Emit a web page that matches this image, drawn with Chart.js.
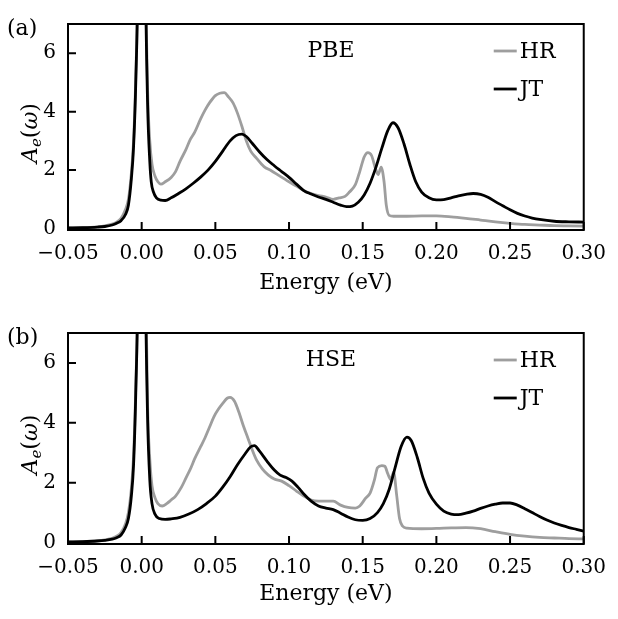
<!DOCTYPE html>
<html>
<head>
<meta charset="utf-8">
<script src="https://cdn.jsdelivr.net/npm/chart.js@4.4.0/dist/chart.umd.min.js"></script>
<style>
  html, body { margin: 0; padding: 0; background: #fff; }
  canvas { display: block; }
</style>
</head>
<body>
<canvas id="chartA" width="618" height="309"></canvas>
<canvas id="chartB" width="618" height="310"></canvas>
<script>
// tick labels
const xTicks = [-0.05, 0.00, 0.05, 0.10, 0.15, 0.20, 0.25, 0.30];
const yTicks = [0, 2, 4, 6];

// (a) PBE, HR
const pbeHrE = [-0.05, -0.04, -0.03, -0.025, -0.02, -0.017, -0.014, -0.011, -0.009, -0.007, -0.0055, -0.004, -0.0025, -0.001, 0,
  0.001, 0.0025, 0.004, 0.0055, 0.007, 0.009, 0.011, 0.013, 0.016, 0.02, 0.023, 0.026, 0.03, 0.033, 0.036, 0.04, 0.043, 0.046,
  0.05, 0.053, 0.056, 0.059, 0.062, 0.065, 0.068, 0.071, 0.074, 0.078, 0.083, 0.088, 0.093, 0.1, 0.105, 0.11, 0.115, 0.12,
  0.125, 0.13, 0.134, 0.138, 0.141, 0.145, 0.148, 0.151, 0.1535, 0.156, 0.159, 0.1605, 0.1625, 0.1645, 0.166, 0.168, 0.171,
  0.18, 0.19, 0.2, 0.21, 0.22, 0.23, 0.24, 0.25, 0.26, 0.27, 0.28, 0.29, 0.3];
const pbeHrA = [0.02, 0.03, 0.06, 0.09, 0.15, 0.22, 0.35, 0.65, 1.0, 1.9, 3.0, 5.2, 9, 20, 30,
  20, 9.5, 4.8, 3.0, 2.2, 1.8, 1.6, 1.52, 1.6, 1.75, 1.95, 2.3, 2.7, 3.05, 3.3, 3.75, 4.05, 4.3,
  4.55, 4.63, 4.65, 4.5, 4.3, 3.95, 3.5, 3.0, 2.65, 2.4, 2.12, 1.98, 1.82, 1.6, 1.45, 1.3, 1.2, 1.13,
  1.08, 1.0, 1.05, 1.1, 1.25, 1.5, 1.95, 2.45, 2.6, 2.5, 2.0, 1.85, 2.1, 1.6, 0.8, 0.45, 0.42,
  0.42, 0.43, 0.43, 0.4, 0.35, 0.29, 0.23, 0.18, 0.14, 0.12, 0.1, 0.09, 0.08];

// (a) PBE, JT
const pbeJtE = [-0.05, -0.04, -0.03, -0.025, -0.02, -0.017, -0.014, -0.011, -0.009, -0.007, -0.0055, -0.004, -0.0025, -0.001, 0,
  0.001, 0.0025, 0.004, 0.0055, 0.0065, 0.008, 0.01, 0.013, 0.016, 0.02, 0.025, 0.03, 0.035, 0.04, 0.045, 0.05, 0.055,
  0.06, 0.064, 0.068, 0.071, 0.075, 0.08, 0.085, 0.09, 0.095, 0.1, 0.105, 0.11, 0.115, 0.12, 0.125, 0.13, 0.135, 0.139,
  0.143, 0.147, 0.151, 0.155, 0.159, 0.163, 0.167, 0.1705, 0.174, 0.178, 0.182, 0.186, 0.19, 0.195, 0.2, 0.205, 0.21,
  0.215, 0.22, 0.225, 0.23, 0.235, 0.24, 0.245, 0.25, 0.255, 0.26, 0.265, 0.27, 0.28, 0.29, 0.3];
const pbeJtA = [0.02, 0.03, 0.05, 0.07, 0.12, 0.18, 0.27, 0.48, 0.8, 1.7, 2.8, 5.0, 9, 20, 30,
  20, 9, 4.3, 2.3, 1.6, 1.25, 1.05, 0.97, 0.96, 1.05, 1.2, 1.36, 1.55, 1.76, 2.0, 2.3, 2.65,
  3.0, 3.18, 3.23, 3.15, 2.92, 2.62, 2.36, 2.15, 1.95, 1.75, 1.52, 1.3, 1.18, 1.08, 1.0, 0.9, 0.8, 0.75,
  0.77, 0.9, 1.15, 1.55, 2.1, 2.75, 3.35, 3.62, 3.45, 2.9, 2.2, 1.6, 1.25, 1.05, 0.98, 0.99, 1.05,
  1.12, 1.17, 1.2, 1.17, 1.07, 0.92, 0.78, 0.64, 0.52, 0.43, 0.36, 0.31, 0.25, 0.23, 0.22];

// (b) HSE, HR
const hseHrE = [-0.05, -0.04, -0.03, -0.025, -0.02, -0.017, -0.014, -0.011, -0.009, -0.007, -0.0055, -0.004, -0.0025, -0.001, 0,
  0.001, 0.0025, 0.004, 0.0055, 0.007, 0.009, 0.011, 0.014, 0.017, 0.02, 0.023, 0.027, 0.03, 0.033, 0.036, 0.04, 0.043,
  0.046, 0.049, 0.052, 0.055, 0.058, 0.06, 0.063, 0.066, 0.069, 0.072, 0.075, 0.078, 0.082, 0.086, 0.09, 0.095, 0.1,
  0.105, 0.11, 0.115, 0.12, 0.125, 0.13, 0.135, 0.14, 0.145, 0.148, 0.152, 0.155, 0.158, 0.16, 0.163, 0.165, 0.167,
  0.169, 0.171, 0.173, 0.175, 0.177, 0.18, 0.19, 0.2, 0.21, 0.22, 0.23, 0.24, 0.25, 0.26, 0.27, 0.28, 0.29, 0.3];
const hseHrA = [0.02, 0.03, 0.06, 0.09, 0.14, 0.21, 0.33, 0.62, 1.0, 1.8, 2.9, 5.2, 9, 20, 30,
  20, 9.5, 4.6, 2.8, 1.9, 1.5, 1.3, 1.22, 1.3, 1.42, 1.55, 1.85, 2.15, 2.45, 2.8, 3.2, 3.5,
  3.85, 4.2, 4.45, 4.65, 4.82, 4.85, 4.72, 4.35, 3.9, 3.5, 3.1, 2.75, 2.45, 2.25, 2.12, 2.05, 1.9,
  1.72, 1.55, 1.42, 1.38, 1.38, 1.38, 1.25, 1.17, 1.15, 1.22, 1.48, 1.65, 2.1, 2.5, 2.57, 2.55, 2.3,
  2.1, 2.35, 1.6, 0.8, 0.55, 0.48, 0.46, 0.47, 0.49, 0.5, 0.46, 0.36, 0.27, 0.21, 0.17, 0.15, 0.13, 0.12];

// (b) HSE, JT
const hseJtE = [-0.05, -0.04, -0.03, -0.025, -0.02, -0.017, -0.014, -0.011, -0.009, -0.007, -0.0055, -0.004, -0.0025, -0.001, 0,
  0.001, 0.0025, 0.004, 0.0055, 0.007, 0.009, 0.012, 0.016, 0.02, 0.026, 0.032, 0.038, 0.044, 0.05, 0.055, 0.06, 0.065,
  0.07, 0.074, 0.0765, 0.08, 0.085, 0.09, 0.094, 0.098, 0.102, 0.106, 0.11, 0.115, 0.12, 0.125, 0.13, 0.135, 0.14, 0.145,
  0.15, 0.155, 0.16, 0.164, 0.168, 0.172, 0.176, 0.18, 0.183, 0.187, 0.191, 0.195, 0.2, 0.205, 0.21, 0.215, 0.22, 0.225,
  0.23, 0.235, 0.24, 0.245, 0.25, 0.255, 0.26, 0.265, 0.27, 0.275, 0.28, 0.285, 0.29, 0.295, 0.3];
const hseJtA = [0.02, 0.03, 0.05, 0.07, 0.11, 0.16, 0.25, 0.5, 0.8, 1.55, 2.6, 5.0, 9, 20, 30,
  20, 9, 4.2, 2.1, 1.3, 0.95, 0.8, 0.77, 0.79, 0.84, 0.95, 1.1, 1.3, 1.55, 1.85, 2.2, 2.6,
  2.95, 3.2, 3.24, 3.05, 2.72, 2.42, 2.25, 2.17, 2.05, 1.85, 1.62, 1.38, 1.22, 1.15, 1.1, 0.98, 0.85, 0.76,
  0.74, 0.8, 1.0, 1.3, 1.78, 2.5, 3.2, 3.52, 3.4, 2.85, 2.15, 1.65, 1.28, 1.05, 0.95, 0.93, 0.98, 1.05,
  1.14, 1.22, 1.28, 1.32, 1.32, 1.25, 1.13, 1.0, 0.87, 0.75, 0.65, 0.57, 0.5, 0.44, 0.38];

const FONT = 'DejaVu Serif';
const TICK_SIZE = 20;
const TEXT_SIZE = 22;

function pts(es, vs) {
  return es.map((e, i) => ({ x: e, y: vs[i] }));
}

function fmtTick(v) {
  const s = Math.abs(v).toFixed(2);
  return v < -1e-9 ? '\u2212' + s : s;
}

// frame, inward ticks, panel tag, method label, legend and y title
const framePlugin = {
  id: 'frame',
  afterDatasetsDraw(chart, args, opts) {
    const ctx = chart.ctx;
    const a = chart.chartArea;
    const xs = chart.scales.x, ys = chart.scales.y;
    ctx.save();
    ctx.strokeStyle = '#000';
    ctx.lineWidth = 2;
    ctx.strokeRect(a.left, a.top, a.right - a.left, a.bottom - a.top);
    ctx.beginPath();
    xTicks.forEach(v => {
      const p = xs.getPixelForValue(v);
      ctx.moveTo(p, a.bottom); ctx.lineTo(p, a.bottom - 8);
    });
    yTicks.forEach(v => {
      const p = ys.getPixelForValue(v);
      ctx.moveTo(a.left, p); ctx.lineTo(a.left + 8, p);
    });
    ctx.stroke();

    ctx.fillStyle = '#000';
    ctx.font = TEXT_SIZE + 'px ' + FONT;
    ctx.textBaseline = 'middle';
    ctx.textAlign = 'left';
    ctx.fillText(opts.tag, 7, a.top + 5);
    ctx.textAlign = 'center';
    ctx.fillText(opts.method, 331, a.top + 27);

    // legend
    const ds = chart.data.datasets;
    ctx.textAlign = 'left';
    ds.forEach((d, i) => {
      const yy = a.top + 27 + i * 38;
      ctx.strokeStyle = d.borderColor;
      ctx.lineWidth = 2.8;
      ctx.beginPath();
      ctx.moveTo(a.right - 90, yy); ctx.lineTo(a.right - 67, yy);
      ctx.stroke();
      ctx.fillText(d.label, a.right - 64, yy + 1);
    });

    // y title A_e(w)
    ctx.translate(29, (a.top + a.bottom) / 2 + 6);
    ctx.rotate(-Math.PI / 2);
    const parts = [
      { t: 'A', f: 'italic ' + TEXT_SIZE + 'px ' + FONT, dy: 0 },
      { t: 'e', f: 'italic 15px ' + FONT, dy: 4 },
      { t: '(', f: TEXT_SIZE + 'px ' + FONT, dy: 0 },
      { t: '\u03c9', f: 'italic ' + TEXT_SIZE + 'px ' + FONT, dy: 0 },
      { t: ')', f: TEXT_SIZE + 'px ' + FONT, dy: 0 }
    ];
    let w = 0;
    parts.forEach(p => { ctx.font = p.f; p.w = ctx.measureText(p.t).width; w += p.w; });
    let cx = -w / 2;
    ctx.textBaseline = 'alphabetic';
    ctx.textAlign = 'left';
    parts.forEach(p => {
      ctx.font = p.f;
      ctx.fillText(p.t, cx, 8 + p.dy);
      cx += p.w;
    });
    ctx.restore();
  }
};

function buildChart(canvasId, tag, method, hrE, hrA, jtE, jtA, topPad, axisHeight, titlePad) {
  const ctx = document.getElementById(canvasId);
  return new Chart(ctx, {
    type: 'line',
    data: {
      datasets: [{
        label: 'HR',
        data: pts(hrE, hrA),
        borderColor: '#9e9e9e',
        borderWidth: 2.8,
        pointRadius: 0,
        cubicInterpolationMode: 'monotone',
        order: 1
      }, {
        label: 'JT',
        data: pts(jtE, jtA),
        borderColor: '#000000',
        borderWidth: 2.8,
        pointRadius: 0,
        cubicInterpolationMode: 'monotone',
        order: 0
      }]
    },
    options: {
      responsive: false,
      animation: false,
      devicePixelRatio: 1,
      layout: { padding: { top: topPad, right: 25, left: 0, bottom: 0 } },
      plugins: {
        legend: { display: false },
        tooltip: { enabled: false },
        frame: { tag: tag, method: method }
      },
      scales: {
        x: {
          type: 'linear',
          min: -0.05,
          max: 0.30,
          grid: { display: false, drawTicks: false },
          border: { display: false },
          afterBuildTicks: (s) => { s.ticks = xTicks.map(v => ({ value: v })); },
          afterFit: (s) => { s.height = axisHeight; },
          ticks: {
            autoSkip: false,
            maxRotation: 0,
            padding: 12,
            color: '#000',
            font: { family: FONT, size: TICK_SIZE },
            callback: (v) => fmtTick(v)
          },
          title: {
            display: true,
            text: 'Energy (eV)',
            color: '#000',
            font: { family: FONT, size: TEXT_SIZE },
            padding: { top: 0, bottom: titlePad }
          }
        },
        y: {
          min: -0.05,
          max: 7,
          grid: { display: false, drawTicks: false },
          border: { display: false },
          afterBuildTicks: (s) => { s.ticks = yTicks.map(v => ({ value: v })); },
          afterFit: (s) => { s.width = 68; },
          ticks: {
            padding: 12,
            color: '#000',
            font: { family: FONT, size: TICK_SIZE },
            callback: (v) => String(v)
          }
        }
      }
    },
    plugins: [framePlugin]
  });
}

buildChart('chartA', '(a)', 'PBE', pbeHrE, pbeHrA, pbeJtE, pbeJtA, 10, 79, 13);
buildChart('chartB', '(b)', 'HSE', hseHrE, hseHrA, hseJtE, hseJtA, 14, 75, 12);
</script>
</body>
</html>
